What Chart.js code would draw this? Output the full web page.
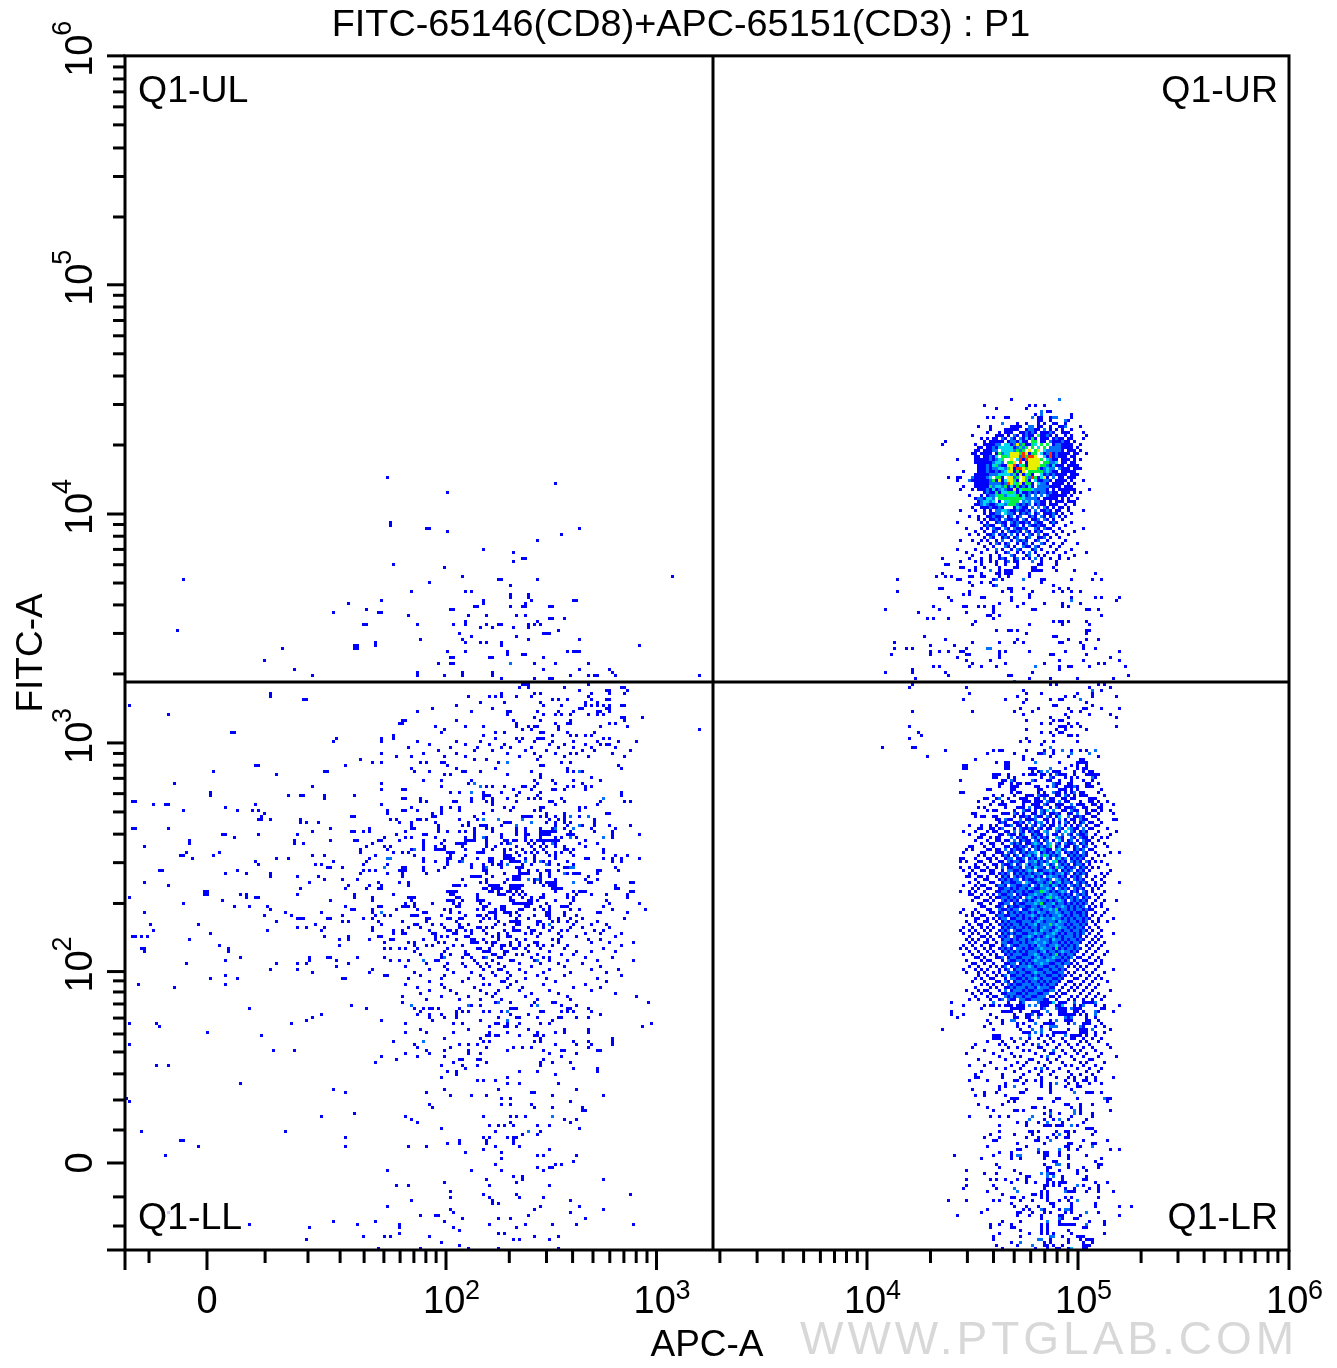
<!DOCTYPE html>
<html>
<head>
<meta charset="utf-8">
<style>body{margin:0;background:#fff}canvas{display:block}</style>
<script src="https://cdn.jsdelivr.net/npm/chart.js@4"></script>
</head>
<body>
<canvas id="dot" width="1337" height="1368"></canvas>
<script>
// axis ticks, in display channels (1 channel = 3 px bin)
const xMajor = [-0.5, 26.83, 106.5, 176.67, 246.83, 317.17, 387.5];
const xLabels = [null, '0', 2, 3, 4, 5, 6];
const xMinor = [7.5,46.2,60.5,71.2,79.2,85.8,91.2,95.8,99.8,103.2,127.6,140,148.7,155.5,161.1,165.8,169.9,173.5,197.8,210.2,218.9,225.7,231.3,236,240,243.6,268,280.3,289,295.9,301.4,306.1,310.2,313.8,338.2,350.5,359.2,366.2,371.5,376.2,380.5,383.8];
const yMajor = [-0.5, 28.5, 92.3, 168.5, 244.8, 321.2, 397.5];
const yLabels = [null, '0', 2, 3, 4, 5, 6];
const yMinor = [7.5,17.2,39.5,49.5,58.2,65.5,71.5,76.8,81.5,85.5,89.2,115,128.6,138.1,145.5,151.6,156.7,161.1,165,191.5,205,214.5,221.8,227.9,233,237.4,241.3,267.8,281.3,290.8,298.2,304.2,309.3,313.8,317.7,343.8,357.3,366.8,374.5,380.5,385.5,389.8,393.8];
const gateX = 195.5, gateY = 188.8;

// rows: [y, x, x, x ...], estimated by eye from the plot; the dense clusters are approximate, not an exact bin copy
const upperLeftBlue = [[257,87],[255,143],[252,107],[242,88],[241,88],[240,100,101,151],[239,107],[238,145],[236,137],[233,119],[232,129],[230,132,133],[229,129],[228,89],[227,106],[224,112,182],[223,124,125,137,19],[222,101],[221,128],[219,95,113,115],[218,128,134],[217,128,134],[216,85,119,135,149,150],[215,74,119,133],[214,116,117,128,132,133,141,142],[213,80,108,109],[212,69,84,85],[211,94,114,120,130,133],[210,141,142,146],[209,113,137],[208,79,80,97,109,113,120,124,125,134,136,138],[207,118,122,129,134],[206,144,17],[205,111,139,140,141],[204,115,130],[203,98,112,134,151],[202,83,113,118,120,125],[201,76,77,83,125,171],[200,76,77,52],[199,107,113,127,147,149,150,151],[198,127,132,133],[197,108,109,121,122,139],[196,46],[195,104,108,109,136,143,154],[193,56,139,151,161],[192,97,112,122,162],[191,62,97,106,112,122,148,154,156,157,163,191],[190,125,136,141,142]];
const upperLeftAzure = [[195,128]];

const lowerLeftOuter = [[185,48],[184,48],[183,59,60,59],[181,1],[178,14],[175,91,92],[172,35,36],[170,89],[169,69,85],[165,85],[164,90],[163,78],[162,82,85],[161,43,44,73],[159,29,66,67],[158,50],[155,16,85],[154,62],[153,85,92],[152,28],[151,28,54,58,59,66,76],[150,66,92],[149,2,3],[148,9,13,14,43,85],[147,33],[146,19,37,42,44,87,92],[145,46,87],[144,45,75,76],[143,45,44,48,58,88,90],[142,58,60,64,91],[140,2,3,14,68,81],[139,62,75,76,79,81],[138,32,33,44,57,90],[137,36,86],[136,21,56,68,76,77,84,85,91],[135,21,56,59,82],[134,6,80,86,88],[133,78,87],[132,20,31,78,89,92],[131,18,19,29,62,66,83],[130,22,50,54,81,87],[129,43,69,80],[128,44,63,65,79,87],[127,67,68,72],[126,11,12,37,79,81,83,91,92],[125,33,40,48,78,87,92],[124,48,57,64],[123,66,72,77],[122,6,61,84,91],[121,14,74,81,85],[120,58,73,80,84,85],[119,26,27],[118,26,27,38,40,57,76,89],[117,1,40,43,44,76,82],[116,32,68,82],[115,19],[114,36,41,47,73,84,85,92],[113,48,75,76,82,90],[112,6,53,65,82],[111,46,55,72,83,86,88],[110,57,58,59,67,68,79,82],[109,50,72,74,84,92],[108,8,24,63,85],[107,57,60,66,82],[106,9,47,65,82,89],[105,28,89],[104,2,3,5,7,66,74,84,85],[103,21,71,74,81,88,89],[102,86],[101,31,71],[100,5,6,34,86,88,91],[99,6,34],[97,38,61,67,68,77,86],[96,33,61,70,88,91],[95,20,50,57,60,74],[94,70],[93,48,57,82],[92,62,81],[91,33,86,87],[90,28,37,72,73],[88,4,33],[87,16],[81,75],[80,41,80],[78,65],[77,62],[76,60],[75,1,10,55],[74,11],[72,27],[71,45],[68,1],[66,49,56],[62,83],[61,10,14],[55,38],[53,69],[52,73],[50,0],[49,1],[45,76],[44,65],[39,5,53],[37,73],[36,18,19],[34,24,73],[31,13],[9,69,83],[8,41,77],[7,61],[4,79],[3,60],[0,84]];

const lowerLeftTop = [[188,132,133,134,154],[187,131,134,146,165,166],[186,151,160,161,167],[185,125,136,138,155,161,166],[184,114,121,123,125,130,135,154],[183,59,142,144,147,155,160,161],[182,118,126,138,153,157],[181,110,139,145,153,155,157,159,161,165,166],[180,102,122,151,152,160,161],[179,97,115,127,128,137,144,149,157,158,161],[178,127,139,143,145,148,154,157,159],[177,136,165,166,172],[176,92,93,110,129,138,148,166],[175,130,143,147,148,161,163],[174,103,113,119,130,134,136,137,144,158,167],[173,106,132,135,144,191],[172,105,123,126,138,139,147,156],[171,89,119,142,148,150,153,155],[170,70,85,123,130,132,137,138,139,159,161],[169,97,110,118,131,136,142,149,157,164,170],[168,101,113,121,126,141,146,153,158,160,161],[167,94,108,117,125,128,135,144,149,155,163],[166,104,116,122,133,140,152,156,168],[165,99,110,127,136,143,148,150,162],[164,95,106,113,131,138,146,154,166]];

const lowerLeftCore = [[163,116,120,137],[162,98,100,105,106,124,145,148],[161,107,138,139,164],[160,95,110,123,147,165],[159,96,101,112,113,118,135,147,149,152],[158,106,108,127,138],[157,138,155],[156,99,105,115,136,142,149,158],[155,114,137,143,152],[154,105,120,122,126,132,133,136,147,149,153,155],[153,93,129,135,142,143,146,153],[152,108,111,119,125,131,138,165],[151,119,120,121,130,137,165],[150,93,98,115,119,122,127,134,136,138,145],[149,98,100,109,110,115,120,122,130,141,142,146,158,166,168],[148,122,143,157],[147,95,105,108,111,126,129,138,139,151,153],[146,93,97,105,111,122,128,136,138,151],[145,102,105,119,140,146,160,161],[144,102,103,116,132,133,134,135,138,140,143,146,151],[143,97,98,100,111,117,124,132,141,144,146,156],[142,95,103,114,126,127,128,140,143,146,148,156],[141,95,104,112,114,118,119,120,125,130,143,147,152,156,161,168],[140,95,96,104,116,120,122,130,133,138,142,146,149,155,163],[139,93,104,107,111,113,116,122,130,133,138,139,140,141,142,143,148,156,162],[138,99,100,116,125,130,133,134,138,139,140,141,147,148,149,162,171],[137,93,95,103,113,116,120,125,133,138,143,145,150,162],[136,99,106,113,114,115,116,120,126,127,129,130,133,135,137,138,139,140,141,142,143,144,153],[135,99,105,110,111,112,113,120,125,127,134,136,139,143,151,157],[134,99,103,106,112,120,123,130,135,138,140,143,146,153],[133,95,99,103,104,105,106,113,119,122,126,128,132,136,139,146,147,149,159],[132,94,107,108,109,117,118,119,126,130,133,135,137,140,143,145,148,159],[131,96,108,113,126,127,128,131,136,141,143,149,163,167],[130,99,107,108,112,117,121,122,126,127,128,129,133,136,143,153,154,159,162,165,171],[129,99,103,107,111,121,122,125,128,129,130,131,136,139,141,147,162,165],[128,107,115,119,122,124,125,132,135,141,144,149],[127,92,93,99,106,115,119,125,130,131,132,146,147,163],[126,93,99,104,119,120,131,134,137,140,141,144,157,164,158],[125,100,120,126,131,132,133,134,138,141,147,149,150,151,157],[124,92,115,116,117,118,122,129,130,131,138,141,154],[123,112,120,127,129,130,131,136,138,143,153,157],[122,94,118,120,126,136,138,140,141,142,143,154,155,168,169],[121,94,109,110,111,113,121,122,123,124,128,129,130,131,132,139,141,142,143,163],[120,119,120,122,123,124,125,128,129,130,131,142,143,144,145,163,164],[119,107,108,109,110,121,122,124,127,128,130,132,143,149,151,152,153,168,169],[118,108,109,117,124,125,126,129,131,133,139,147,150,155,160,167],[117,94,95,96,110,111,117,128,132,135,138,139,147,149,167],[116,95,107,108,109,112,117,118,119,128,129,134,135,137,143,149,160],[115,93,96,102,109,111,118,121,129,130,131,132,133,134,135,140,148,161,171],[114,93,94,96,110,111,119,120,125,126,133,134,138,141,145,146,147,159],[113,97,106,108,117,119,123,125,126,131,132,136,139,141,148,151,162,173],[112,99,100,108,111,121,122,123,126,127,128,130,140,141,146,157,158,167],[111,95,96,97,105,113,117,118,120,123,128,131,136,140,141,146,150],[110,100,101,107,108,111,112,119,121,123,130,134,141,144,148,152,166],[109,100,110,118,124,128,129,130,131,137,138,142,144,147,150,157],[108,96,97,102,105,111,114,123,126,130,131,137,139,141,149,155,160],[107,94,98,106,111,112,117,118,120,122,129,134,139,142,148,152,161],[106,92,101,107,108,110,113,115,119,126,129,130,131,135,136,141,145,147,156,159],[105,92,93,102,103,109,110,115,120,124,127,133,135,138,144,153,158,165],[104,103,105,107,113,114,122,124,127,128,137,145,150,163],[103,99,103,110,115,116,119,124,130,133,142,144,154,158],[102,94,96,104,106,115,116,117,120,122,123,128,131,136,137,144,155,161,169],[101,96,100,102,109,112,122,125,126,128,131,134,137,139,142,147,165],[100,93,97,107,117,118,121,125,129,130,133,138,146,159],[99,96,106,113,119,120,121,126,127,134,141,150,155,163],[98,98,105,108,113,114,122,123,126,130,132,137,145,149],[97,105,112,115,119,120,124,125,135,139,141,153,162],[96,94,103,104,116,122,128,129,136,141,147,157,169],[95,100,107,112,117,120,124,131,138,144,152],[94,93,106,113,118,121,126,135,146,158],[93,101,107,119,124,125,131,141,155,164],[92,96,109,115,122,127,133,139,148,160],[91,98,106,118,123,128,137,146,165],[90,94,105,114,119,127,133,140,157],[89,101,112,125,126,130,143,160],[88,93,105,119,121,128,139,153],[87,97,106,116,127,132,149,158],[86,101,108,118,124,131,141,155],[85,98,110,120,123,135,144,163],[84,92,105,114,122,133,147,170],[83,100,111,118,125,137,148]];

const lowerLeftBottom = [[82,92,123,128,136,142,143,174],[81,115,118,135,145,150],[80,96,99,101,102,104,111,128,129,130,147,148,154],[79,98,110,112,114,119,121,125,138,139,145,147,149,155],[78,97,101,105,110,128,134,158],[77,101,106,110,124,130,131,137,144,145,150,154],[76,85,102,118,142],[75,93,109,112,123,124,127,131,138,141,175],[74,121,126,127,130,172],[73,98,114,134,146,154],[72,93,100,109,121,127,137,143,146,154],[71,120,121,123,124,131,136,137,139],[70,106,118,138,162],[69,89,119,121,136,138,149,154,162],[68,96,111,114,117,143,150,155,162],[67,97,108,120,129,132,135,154],[66,100,106,114,127,139,145,146,157,158],[65,93,101,114,118,141,150],[64,85,97,106,145],[63,90,111,112,117,118,139],[62,109,120,138,142,148],[61,105,112,117,138],[60,113,149,157],[59,107,110,131,137,157],[58,110,143],[57,105,127],[56,117,119,123],[55,127,131,144],[53,106,124,150],[52,100,135,136],[51,108,115,120,142,159],[50,125,128],[49,148],[48,101,125,128,135],[47,102,136,142,152],[46,152,153],[44,93,119,128,130,133],[43,95,146,150],[42,97,128,148],[41,121,124,126,129,137,141],[40,105,151],[39,123,138],[38,132,137],[37,119,121,127,129,130],[36,111,120,129],[35,107,111,120,129],[34,94,100,123,131],[33,119,141],[32,113,125],[31,137,139,150],[30,125],[29,149],[28,123,143,145],[27,137,141,142],[26,87,115,125,139],[24,129,132],[23,120,132,159],[22,106,130],[21,90,94,121,141],[19,108],[18,119,130,168],[17,108,121,131,139],[16,95,122,148],[15,122,124],[14,87,138,151],[13,108,136,159],[12,109,148],[11,98,103,104,134],[10,112,124,128,153],[9,106],[8,91,121,133,142,150,169],[7,91,109,130],[6,111],[5,91,124,126],[4,86,88,101,136,144],[3,129,131,141],[2,105],[1,111],[0,98,114,124,144]];
const lowerLeftAzure = [[162,127],[159,151],[155,116],[154,118],[152,115],[150,159],[144,148,154],[143,119,124,132],[142,135],[141,130,151],[140,143,149],[137,119,148,159],[135,128,142],[133,96],[130,87,88],[129,112,133,138],[128,127,140],[127,86,120,148,149],[125,146],[123,134,137],[122,149],[112,85],[108,141],[97,106,120],[96,99,137],[82,124],[81,95,114,137],[79,127],[76,127],[69,99],[44,142],[39,134]];

const upperRightBlue = [[283,295],[281,286,301,303,306],[280,290,300],[279,307,308],[278,303,315],[277,287,289,293,294,304,305,308,315],[276,304,305,308,314],[275,297,300,304,306,309,310,313],[274,284,288,295,296,297,298,304,305,308,311,312,318],[273,288,293,294,295,296,297,300,303,304,308,310,312,315],[272,287,291,293,294,295,298,299,301,303,305,306,307,309,312,313,314,319],[271,282,290,291,292,294,296,297,299,301,302,305,306,308,310,313,315,320],[270,285,287,289,290,292,293,295,296,298,299,301,303,305,306,307,309,311,312,314,315,319],[269,273,286,288,289,290,291,292,294,296,297,299,300,303,305,306,308,309,310,311,313,314,316],[268,272,283,286,287,288,289,291,293,295,300,301,305,309,311,312,313,314,315,318],[267,284,285,287,288,290,292,296,298,300,302,304,306,308,312,313,314,315,317],[266,283,284,286,287,288,295,299,301,303,306,310,311,312,314,315,316,318],[265,282,283,285,286,287,288,290,298,301,306,309,310,311,312,313,314,316,317,320],[264,283,284,286,287,288,289,293,297,300,302,307,309,311,312,313,315,316],[263,277,283,284,285,286,287,289,295,299,303,309,310,312,313,314,316,318],[262,283,284,285,286,287,288,290,292,298,300,303,308,310,312,313,315,316],[261,284,285,286,287,288,292,293,297,300,303,306,308,310,311,312,314,315,316,317],[260,284,285,286,288,290,291,293,296,299,305,307,308,309,311,312,313,314,316,317,318],[259,279,284,285,286,287,288,289,291,296,298,301,303,306,308,309,310,312,313,314,315,316],[258,283,284,285,286,287,289,291,295,297,298,299,302,305,306,307,308,310,311,312,313,315,316,317],[257,274,277,278,282,283,284,285,286,287,292,294,296,299,304,306,307,309,311,312,314,315,316],[256,277,281,282,283,284,285,286,287,288,290,292,297,300,301,303,304,305,306,308,310,311,312,313,315,319],[255,283,284,285,286,287,288,291,292,293,296,299,301,302,304,305,307,309,310,311,312,314,316],[254,279,283,284,285,286,287,290,291,292,294,296,298,299,300,302,304,306,308,309,310,311,313,314,315],[253,278,282,284,285,286,287,288,290,291,293,294,295,297,300,304,305,307,309,311,312,313,314,315,316,321],[252,286,287,288,289,291,292,293,296,297,299,300,302,303,304,305,306,307,309,310,312,313,314,316,318],[251,281,285,287,288,289,292,293,296,298,300,301,303,305,307,308,309,310,311,312,313,315],[250,283,285,286,288,289,291,296,298,300,301,302,303,304,306,307,308,309,310,312,314,317],[249,284,285,286,288,291,293,294,299,301,303,305,306,308,310,311,312,314,315,316],[248,283,284,287,288,289,291,292,293,297,298,299,300,301,303,305,306,308,309,310,313,316],[247,282,285,286,287,289,290,291,292,296,298,299,300,302,304,306,307,309,311,312,314],[246,278,283,286,288,290,293,295,296,298,299,300,301,303,305,306,308,310,311,314,319],[245,286,288,289,291,293,295,296,298,300,303,304,306,307,308,310,312,315],[244,281,284,287,288,290,291,294,297,298,301,303,305,306,308,311,313],[243,284,286,288,289,291,294,295,297,300,302,303,306,307,309,312],[242,277,285,287,290,292,293,296,298,299,301,304,305,308,310,315],[241,286,288,289,293,295,296,299,302,303,305,306,309,313],[240,280,285,287,290,291,294,297,298,300,304,307,308,311,319],[239,283,286,289,292,295,296,298,301,303,305,309,312,316],[238,281,284,287,288,291,293,297,299,302,306,307,310,314],[237,286,289,292,294,296,300,304,305,308,311],[236,278,282,285,287,290,295,298,300,303,307,313],[235,284,288,291,293,297,299,302,306,309,312,317],[234,286,289,294,296,300,301,304,308,311],[233,277,283,287,292,295,298,302,305,310,315],[232,280,285,290,293,297,299,303,307,309,313,320],[231,282,288,291,296,300,304,306,311,316],[230,272,281,285,288,291,293,296,299,301,305,308,311,314],[229,278,283,285,288,290,293,296,297,305,310],[228,273,274,285,290,293,297,304,305,310],[227,278,279,283,286,291,296,297,302,303,309],[226,281,283,291,293,294,295,302,303,304,305,310,316],[225,272,285,290,291,293,294,295,301,323],[224,270,273,275,281,282,285,286,291,294,301],[223,257,277,278,289,292,305,306,315,322,325],[222,281,285,288,305],[221,282,289,290,309],[220,271,272,294,295,299,311,314],[219,257,281,292,295,302,309,312,315,318],[218,279,281,301],[217,274,285,286,295,301,315,323,325,331],[216,275,295,330],[215,291,299,306,312,318],[214,269,279,280,284,286,289,297,312,314],[213,253,271,289,302,303,320,321,324],[212,264,280,289],[211,287,288,291,325],[210,267,269,274,289],[209,283,309,311,312,314,320],[208,282,301,312,321],[206,290,294,295,297,320,321],[205,300,320],[204,266,309,310],[203,273,297,314,320,324],[202,256,282,291,296,299,311,312,318],[201,268,276,319],[200,256,260,262,280,319,323],[199,268,271,274,278,279,291,293,301,313,331],[198,255,268,280,281,291,308,309,320],[197,277,291,328],[196,280,288,311,319,331],[195,282,293,306,324,326],[194,269,271,281,285,290,311,314,315,321,333],[193,262,311],[192,253,262,273,302],[191,274,294,295,334],[190,263,301,308,317,329]];
const upperRightAzure = [[283,311],[279,305],[278,305],[277,302,309,310],[276,313],[275,292],[274,301,302,313],[273,301,302,306],[272,300,302,308],[271,296,300,304,307],[270,292,295,298,310],[269,295,296,308,312],[268,290,291,296,297,298,299,310,311],[267,289,297,299,308,309,310,311],[266,289,290,296,298,307,308,309,310,311],[265,291,292,307,310],[264,288,296,298,306,310],[263,288,290,291,292,305,307,308],[262,289,291,292,301,308,309],[261,287,291,294,303,305,307],[260,287,289,290,293,295,306,308,309,311],[259,287,290,292,293,295,306,308],[258,288,289,290,295,305,307,309],[257,282,287,290,296,301,306,309],[256,281,288,289,291,296,300,306,307],[255,288,289,290,291,293,295,300,304,305,306],[254,289,292,295,299,304,305,306,307],[253,287,291,293,296,301,303,304,305,306],[252,287,294,295,298,301,303,305,306,308],[251,288,289,292,293,299,301,303,305,307],[250,284,285,289,291,299,300,301,302,303],[249,285,288,289,295,299,301,303,304],[248,285,287,290,293,297,299,301,304],[247,288,291,298,302,304,306],[246,290,291,294,297,300,303,307],[245,290,291,294,295,299,301,304,309],[244,289,292,295,298,302,305,309],[243,290,293,296,299,304,306],[242,291,295,297,300,303,309],[241,287,292,297,301,304],[240,289,293,296,299,303,306],[239,290,294,297,300,304],[238,289,292,295,301,304],[237,288,293,297,301,306],[236,292,297,299,304],[235,290,294,300,305],[234,293,299,303],[233,290,297,303],[232,294,301],[231,295,301],[230,292,297,303],[229,294,302],[226,288],[223,290,299],[221,290],[216,315],[200,287,288],[194,303],[189,296],[186,322],[183,318],[167,308],[166,312,323],[165,306,315,321]];
const upperRightCyan = [[271,304],[270,300],[269,298],[268,293,294,303],[267,291,292,293,294,295,304],[266,292,293,294,295,306],[265,293,294,305],[264,290,294,306],[263,291,297,307],[262,290,291,310],[261,289,298,309],[260,291,292,307],[259,293,307],[258,291,292,293,294,300,305],[257,288,305],[256,293,303],[255,296,304],[254,290,291,295,301],[253,289,292,298,302],[252,292,293,296,298],[251,290,294,295,296,299],[250,287,288,299],[249,286,287,289,293,294,295,300],[248,286,291,292],[247,297],[246,292,293],[245,293]];
const upperRightGreen = [[271,304],[270,302],[269,302,303],[268,299,302,305,307],[267,298,300,302,306],[266,297,299,303],[265,291,298,302,303],[264,292,293,300],[263,292,300,305],[262,294,295,306,307],[261,290,299,305,306],[260,294,300,304],[259,297,301,302,303,304,305],[258,296,301],[257,290,291,297,300,303],[256,289,296,300],[255,297,300,301],[254,288,293,297],[253,299,300,301],[252,290,294,295],[251,291,292,297],[250,291,292,293,294,295,296,297,298],[249,295,296,297],[248,294,295,296]];
const upperRightYellow = [[268,297],[266,301,304],[265,295,296,297,300],[264,295,296,297,303],[263,295,301,302,303,304],[262,296,301,302,303,304],[261,294,295,301,302,303,304],[260,295,299,301,302,303],[259,294,295,299],[258,298],[257,294,295,299,306],[256,291,294,295,299],[255,295,298],[253,296]];
const upperRightRed = [[265,308,299],[264,299,301,302,308],[263,298,300],[262,298],[261,296],[260,297,298],[257,302],[255,294]];

const lowerRightBlue = [[188,262,308,310,324,326],[187,261,280,321,328],[186,299,322,325],[185,281,300,305,317,322],[184,297,313,316,322,330],[183,279,293,300,308,311,312],[182,299,320],[181,309,310,322],[180,298,304,314,319,320,325,331],[179,262,282,296,302,315,318],[178,299,313,321,328],[177,308,314,330],[176,300,309,311,312],[175,305,308,314,317],[174,261,311,312,313,315,318,330],[173,300,310,313,320],[172,264,305,308,311,312],[171,265,309,314,315,317],[170,261,300],[169,298,301,306,309,317],[168,305],[167,252,262,263],[166,273,289,291,292,300,306,309,315,318,320],[165,287,296,304,305,309],[164,267,299,308,314,324],
[163,283,299,302,318,319],[162,290,293,294,311,317,318,319,320],[161,279,280,293,294,315,317,320],[160,279,280,293,294,301,302,303,313,317,319,320],[159,302,304,309,310,311,316,319,321,322],[158,289,290,291,294,299,301,302,303,305,306,308,311,312,313,316,320,321,322,323,324],[157,289,290,294,296,305,309,313,315,317,323],[156,278,292,293,295,296,302,303,307,308,311,315,319,322],[155,291,292,295,297,298,300,301,310,311,314,315,320,321,324],[154,291,295,296,297,303,304,307,310,313,314,315,317,320,321,322],[153,287,288,295,296,304,305,311,312,313,315,317,325],[152,278,279,295,297,298,304,306,309,310,311,313,315,318,319,324],[151,289,292,296,300,301,302,305,306,307,310,311,314,316,318,319,320,326],[150,286,287,290,291,294,298,299,300,303,304,308,309,312,313,315,316,321,322,323],[149,284,289,292,295,296,299,300,301,303,304,305,308,309,313,314,318,321,322,324,327],[148,288,291,292,293,299,302,303,304,307,310,311,312,317,318,319,322,323,325,329],[147,284,286,293,297,298,299,303,304,305,308,311,313,314,315,319,320,324,325],[146,287,289,290,296,300,301,303,306,307,312,313,316,317,320,322,323,325,328],[145,282,283,292,293,294,297,299,302,303,306,308,309,311,314,315,320,321,324,329],[144,283,285,286,289,290,296,298,299,301,304,305,308,310,311,316,317,319,322,323],[143,290,291,294,295,300,301,302,306,307,309,313,315,316,319,320,324,329,330],[142,291,293,296,297,299,303,304,307,309,311,314,316,318,321,322,325],[141,281,285,288,290,293,294,297,298,300,303,306,308,309,313,315,317,320,323,324],[140,284,285,288,289,291,296,299,300,302,305,307,308,312,316,317,321,322,327],[139,279,283,287,289,290,293,294,299,301,303,304,306,311,313,316,318,320,324,330],[138,281,285,286,291,292,295,296,298,302,304,305,309,310,315,318,319,323,328],[137,284,285,288,290,291,297,299,300,303,305,307,310,312,316,319,320,322,325,327],[136,283,287,290,291,293,294,298,300,301,304,306,309,312,314,317,320,321,324],[135,285,288,289,292,296,298,300,301,303,305,308,311,314,315,318,320,322,326],[134,281,282,286,289,293,294,296,297,299,302,304,306,310,313,314,316,319,323,327],[133,280,282,287,288,290,291,295,297,298,301,304,307,308,311,312,316,318,321,322],[132,279,285,286,290,291,292,295,298,300,303,305,307,309,313,315,317,320,323,328,331],[131,284,286,289,292,294,296,299,301,302,306,308,310,314,316,318,320,324,326],[130,278,279,283,287,288,290,293,297,298,301,303,305,308,311,312,315,317,319,322],[129,278,280,284,285,288,291,292,295,298,299,304,306,309,311,313,316,318,321,323,325],[128,283,286,289,290,293,294,297,300,301,304,307,308,312,314,316,319,321,327],[127,278,281,283,284,287,290,294,295,298,302,303,306,309,310,313,315,318,320,322,324],[126,279,282,285,286,288,289,292,296,297,299,301,304,305,310,312,314,317,319,321,328],[125,281,283,288,289,291,293,296,298,300,302,306,307,309,313,316,318,320,325,327],[124,280,281,284,285,287,290,292,294,297,299,303,305,308,311,313,315,317,320,323,326],[123,283,286,287,291,293,295,299,301,302,304,307,310,312,314,317,319,322,325],[122,281,284,288,289,292,295,296,300,302,303,306,308,309,312,315,318,320,323,326,331],[121,279,283,285,286,290,293,297,298,301,304,305,308,311,313,316,318,321,323,325],[120,282,284,287,288,291,292,295,297,300,303,304,307,309,312,314,317,319,322,324],[119,278,281,283,286,290,291,294,296,299,301,302,305,308,310,312,315,317,320,322,326],[118,281,282,285,287,289,292,293,297,299,300,303,306,308,311,313,315,318,320,323,325],[117,283,284,288,290,291,294,296,298,301,303,305,307,310,312,314,316,319,321,324],[116,282,286,287,289,293,295,297,300,302,304,307,309,311,313,316,318,320,323,326,330],[115,284,285,288,291,292,296,298,299,303,305,306,309,310,313,315,317,319,322,325],[114,285,286,290,291,294,296,297,300,301,304,306,309,312,314,316,318,321,323,325],[113,279,283,287,288,292,293,295,299,300,302,305,308,310,311,314,316,319,321,322,327],[112,278,282,284,288,289,291,294,296,298,301,303,304,307,310,312,315,317,318,320,323,326],[111,280,282,285,286,290,293,294,297,299,302,304,306,308,311,313,315,318,320,322,325],[110,283,284,287,289,291,295,296,299,301,303,305,309,312,314,316,319,321,324,329],[109,280,283,286,287,290,292,294,297,298,302,304,306,310,311,314,317,319,322,324,327],[108,281,284,285,288,291,293,295,298,300,303,304,308,310,313,315,318,320,323],[107,279,282,285,287,289,292,294,296,299,301,304,306,309,311,314,316,319,321,324],[106,278,281,283,286,288,291,293,297,298,302,304,305,308,310,312,315,318,320,322,325],[105,279,282,284,287,290,292,294,296,299,300,303,306,309,311,313,316,318,321,324,329],[104,281,285,286,288,291,293,297,298,301,303,305,307,310,312,316,318,320,323,325],[103,280,282,284,287,289,292,295,297,300,302,304,308,309,312,314,317,319,322,324],[102,281,283,286,287,290,294,295,298,300,303,306,308,311,313,315,318,321,323,326],[101,279,282,285,288,289,292,296,297,301,303,304,307,310,312,314,316,320,322,325],[100,278,280,283,286,288,291,293,295,299,301,302,305,309,311,313,316,318,321,324],[99,281,284,287,289,292,294,296,298,300,304,306,307,310,312,315,317,320,323,327],[98,279,282,285,288,290,293,295,299,300,303,305,308,311,313,316,319,322,326],[97,283,284,286,290,291,294,297,298,302,304,306,309,312,314,317,318,321,324],[96,280,285,287,288,292,295,296,299,301,303,307,310,311,313,316,319,320,323,325],[95,282,283,286,289,293,294,298,300,302,305,308,309,312,315,317,321,322,325],[94,281,284,288,290,292,295,297,301,303,306,307,310,314,316,318,320,324],[93,279,283,285,287,291,293,296,298,299,304,305,308,311,313,317,319,323,329],[92,280,284,286,289,291,294,297,300,301,303,306,309,310,314,316,320,322,326],[91,284,287,290,292,295,296,299,302,304,307,308,311,313,315,318,321,324],[90,283,285,288,289,293,297,298,300,303,305,309,310,312,316,317,320,323,325],[89,282,286,290,291,294,296,299,301,304,306,308,311,314,315,319,322,327],[88,285,287,289,292,295,297,298,302,305,307,310,313,316,318,321,324],[87,283,288,290,293,294,296,300,303,304,308,309,312,315,317,320,323],[86,280,284,286,287,291,295,299,301,302,306,307,311,314,316,319,322,328],[85,282,285,288,292,293,297,298,300,304,305,310,312,313,318,321,324],[84,283,287,289,290,294,296,299,302,303,308,309,311,315,317,320,323,326],[83,281,284,288,291,295,296,300,301,306,307,310,314,316,319,322,325],
[82,275,294,298,305,306,307,308,311,312,313,319,320,321,322],[81,279,286,288,289,291,293,294,295,297,298,299,305,306,307,310,311,316,318,323,326,331],[80,285,295,296,297,298,299,305,306,311,312,313,316,317,318,325,326],[79,275,292,293,294,295,298,302,303,304,311,312,313,316,317,319,324,329],[78,275,279,288,296,300,301,304,305,308,311,312,313,314,315,316,318,320,323],[77,277,290,296,297,300,301,313,314,315,320,323],[76,287,292,301,302,308,313,314,315,320,321,324],[75,288,292,297,299,306,307,308,309,314,319,320,321,325],[74,286,297,301,305,319,323,326],[73,272,289,298,308,314,318,319,320,328],[72,299,300,301,309,310,311,312,313,318,319,320,323,326],[71,289,290,291,305,307,309,315,316,317,318,320,323],[70,289,290,291,295,301,304,308,312,315,316,319,322,325],[69,287,292,296,300,306,309,313,318,320,324],[68,283,291,293,299,302,307,311,314,317,321,327],[67,282,294,297,304,305,310,315,319,322,328],[66,286,292,299,301,306,312,316,318,323],[65,280,289,295,303,308,309,313,317,320,325],[64,291,296,298,305,311,315,319,324,330],[63,284,293,301,302,307,310,316,321,322],[62,288,297,300,304,308,312,318,320,326],[61,281,286,295,299,306,313,315,319,323],[60,290,293,298,303,307,311,317,321,325],[59,285,296,301,305,309,314,320,324],[58,283,292,299,304,308,315,318,322],[57,283,284,292,298,305,310,314,316,320,323,329],[56,281,287,296,297,300,303,305,313,316,319,320,323],[55,293,299,305,308,314,317,321,325],[54,291,293,305,308,313,317,318],[53,282,291,300,308,315],[52,286,290,298,299,308,320,321,322,325],[51,283,286,293],[50,295,296,297,304,305,310,311,317,327,328],[49,294,296,309,327],[48,284,292,313,314,318,322],[47,287,302,303,306,315,318],[46,289,296,297,299,308,318,328],[45,306,311,318,322],[44,281,288,291,294,308,315,322],[43,306,309,314,320],[42,297,300,304,312,319],[41,291,300,306,307,308,310,311,312,317],[40,320,321,322],[39,291,301,302,304,310,313,314,316,323],[38,288,296,302,309,314,322],[37,286,291,300,304,307,310,313,314],[36,289,290,303,304,319,327],[35,297,306,314,315,322,323],[34,287,300,313,314,318],[33,297,298,314,317,328,331],[32,291,295,304,306,307,311],[31,276,289,295,306,307,311,314,320],[30,285,295,298,306,314,325],[29,309,310,323],[28,290,306,314,324,325],[27,291,307,308,314,319,324],[26,280,296,307,311,317,320],[25,286,290,298,308,309,317],[24,300,301,312,320],[23,280,288,290,293,297,300,307,308,312,319,320],[22,295,300,303,307,309,311,312,313,323,327],[21,280,289,306,307,309,311,319,324],[20,279,290,306,313,316,321,324],[19,287,305,307,314,315,316,320,324,329],[18,292,302,303,305,307],[17,295,296,299,305,307,313,315,324],[16,274,280,289,291,298,302,307,311,314],[15,295,308,309,315,323],[14,296,300,304,309,315,323,331,335],[13,287,299,301,306,311,315],[12,285,297,298,302,306,308,313,315,324],[11,277,297,301,305,311,312,318,331],[10,305,312,316,317],[9,292,298,307,311,321,326],[8,288,291,295,305,307,311,312,313,314,315,316,326],[7,288,295,296,305,307,319,320],[6,298,305,307,314],[5,291,301,305,307,309,315,326],[4,289,298,312,317,318,319],[3,289,308,314,318,320,321,322],[2,295,306,308,314,319,322],[1,290,297,306,307,309,312,319,320,321],[0,292,303,307,310,311,314,319,320]];
const lowerRightAzure = [[162,303],[160,308],[159,305,307],[158,310],[157,308,322],[156,295,302],[155,309],[154,309,316],[152,309,316],[151,304,313],[150,291,306],[149,307,311],[148,306,315],[147,301,310,316],[146,299,305,309,315],[145,296,305,310,317],[144,300,303,307,314,318],[143,293,298,303,311,318],[142,292,298,301,305,313,319],[141,295,302,305,311,318],[140,292,298,301,304,311,315,319],[139,296,298,302,307,310,315,319],[138,294,299,303,307,312,314,317,320],[137,295,298,302,306,311,315,318],[136,296,299,303,307,311,315,319],[135,295,297,302,304,307,310,313,316,319],[134,298,300,303,305,307,311,317,320],[133,293,296,299,303,306,310,313,317,319],[132,294,296,299,301,302,306,308,311,314,316,319],[131,293,297,300,303,305,309,311,315,317,319],[130,294,295,299,302,304,307,310,313,316,318],[129,294,296,297,301,302,305,307,310,312,315,317,320],[128,292,295,298,302,303,305,309,311,313,317,318],[127,292,296,297,300,301,304,305,308,311,314,316,319],[126,294,295,298,300,302,306,307,309,313,315,318],[125,292,294,297,299,301,303,304,308,310,311,314,317,319],[124,293,296,298,300,301,304,307,309,310,312,316,318],[123,292,294,296,297,300,303,305,306,308,311,313,316,318],[122,293,294,297,298,301,304,305,307,310,313,314,317,319],[121,291,292,295,296,299,300,303,306,307,310,312,315,317,320],[120,293,294,296,298,299,302,305,306,308,311,313,316,318],[119,292,293,295,297,298,300,303,304,307,309,311,313,316,319],[118,291,294,295,298,301,302,304,305,307,309,310,312,314,317,319],[117,292,293,295,297,300,302,304,306,308,309,311,313,315,317,320],[116,292,294,296,299,301,303,305,306,308,310,312,315,317,319],[115,293,294,297,300,301,302,304,307,308,311,312,314,316,318,320],[114,292,295,298,299,302,303,305,307,308,310,311,313,315,317,319],[113,291,294,296,297,301,303,304,306,307,309,312,313,315,317,318,320],[112,292,295,297,299,300,302,305,306,308,309,311,313,314,316,319],[111,291,292,295,296,298,300,301,303,305,307,309,310,312,314,316,317,319],[110,292,293,297,298,300,302,304,306,307,308,310,311,313,315,317,318,320],[109,293,295,296,299,300,301,303,305,307,308,309,312,313,315,316,318,320],[108,292,294,296,297,299,301,302,305,306,307,309,311,312,314,316,317,319],[107,293,295,297,298,300,302,303,305,307,308,310,312,313,315,317,318],[106,292,294,296,299,300,301,303,306,307,309,311,313,314,316,317,319],[105,293,295,297,298,301,302,304,305,307,308,310,312,314,315,317,319],[104,292,294,296,299,300,302,304,306,308,309,311,313,314,315,317],[103,293,294,296,298,299,301,303,305,306,307,310,311,313,315,316,318],[102,292,293,296,297,299,301,302,304,305,307,309,310,312,314,316,317],[101,293,295,298,299,300,302,305,306,308,309,311,313,315,317],[100,292,294,297,298,300,303,304,306,307,308,310,312,314,315,317],[99,293,295,297,299,301,302,303,305,308,309,311,313,314,316],[98,294,296,297,298,301,302,304,306,307,309,310,312,314,315],[97,292,295,296,299,300,301,303,305,307,308,310,311,313,315],[96,294,297,298,300,302,304,305,306,308,309,312,314],[95,295,296,299,301,303,304,306,307,310,311,313,314],[94,293,296,298,299,300,302,304,305,308,309,311,312],[93,294,297,298,300,301,302,303,306,307,309,310,312],[92,295,296,298,299,302,304,305,307,308,311,312],[91,293,297,298,300,301,303,305,306,309,310,312],[90,295,296,299,301,302,304,306,307,308,311],[89,293,297,298,300,302,303,305,307,309,310],[88,294,296,299,300,301,303,304,306,308,309],[87,295,297,298,299,301,302,305,306,307],[86,293,296,297,298,300,303,304,305,308,309],[85,294,295,296,299,301,302,303,306,307],[84,293,295,297,298,300,301,304,305,306],[83,292,294,298,299,302,303,304,305],
[82,289,299,304,316,323],[81,301,303,319],[80,306,310,315],[79,307,323],[78,302,323],[77,304,313,315],[76,295,296,310],[75,303,316],[74,308,309,310,318],[73,302,305,322],[72,303,305],[71,301,313],[70,298],[68,304],[66,309],[64,307],[60,305],[55,310],[54,296],[52,316],[50,326],[46,316],[45,308,316],[44,302],[43,301,311],[42,307],[41,315],[38,311],[36,308],[34,322],[33,304,311],[31,297,298],[28,310,311],[25,305,307],[24,307,309],[21,317],[20,296],[19,297,313],[16,317],[13,305,313,314],[12,320],[10,311],[9,307],[8,320],[4,308,309],[3,304,305],[2,298],[1,302]];
const lowerRightCyan = [[146,307],[144,311],[142,304],[140,310,314],[139,306,313],[137,304,310],[136,311],[135,303,308],[133,305,311],[132,303,310],[131,301,307],[130,304,311],[129,303,309],[128,300,307],[127,303,312],[126,301,308],[125,305,312],[124,302,308],[123,304,310],[122,300,311],[121,305,309],[120,301,307],[119,306,312],[118,303,308],[117,301,307,310],[116,304,311],[115,303,309],[114,306,312],[113,302,308],[112,304,310],[111,302,311],[110,305,309],[109,304,311],[108,303,310],[107,306,311],[106,305,310],[105,303,309],[104,301,307],[103,304,309],[102,303,306],[101,304,310],[100,305],[99,306,312],[98,303],[97,304,309],[96,303,307],[95,305],[94,301],[92,303],[90,303],[87,304],[81,312],[82,309],[0,315]];
const lowerRightGreen = [[134,308],[131,306],[129,310],[127,310],[122,308],[119,305],[117,308],[115,305],[113,310],[108,308],[100,310],[98,310]];
const faintCells = [[12,14,355]];

const toPoints = rows => rows.flatMap(([y, ...xs]) => xs.map(x => ({x, y})));
const cells = (rows, color) => ({
    data: toPoints(rows), pointStyle: 'rect', pointRadius: 2.13, pointBorderWidth: 0,
    pointBackgroundColor: color, showLine: false, order: 2
});
const gate = data => ({data, showLine: true, borderColor: '#000', borderWidth: 3, pointRadius: 0, order: 1});

const axisMarks = {
    id: 'axisMarks',
    afterDraw(chart) {
        const {ctx, chartArea: a, scales: {x, y}} = chart;
        ctx.save();
        ctx.fillStyle = ctx.strokeStyle = '#000';
        ctx.lineWidth = 3;
        ctx.strokeRect(a.left, a.top, a.width, a.height);
        const tick = (x0, y0, x1, y1) => { ctx.beginPath(); ctx.moveTo(x0, y0); ctx.lineTo(x1, y1); ctx.stroke(); };
        xMinor.forEach(v => { const p = x.getPixelForValue(v); tick(p, a.bottom, p, a.bottom + 13); });
        xMajor.forEach(v => { const p = x.getPixelForValue(v); tick(p, a.bottom, p, a.bottom + 20); });
        yMinor.forEach(v => { const p = y.getPixelForValue(v); tick(a.left, p, a.left - 12, p); });
        yMajor.forEach(v => { const p = y.getPixelForValue(v); tick(a.left, p, a.left - 18, p); });
        // x labels
        ctx.textBaseline = 'alphabetic';
        xMajor.forEach((v, i) => {
            const p = x.getPixelForValue(v), lab = xLabels[i];
            if (lab === null) return;
            ctx.font = '38px "Liberation Sans"';
            if (lab === '0') { ctx.textAlign = 'center'; ctx.fillText('0', p, 1313); return; }
            ctx.textAlign = 'left';
            ctx.fillText('10', p - 23, 1313);
            ctx.font = '27px "Liberation Sans"';
            ctx.fillText(String(lab), p + 19, 1299);
        });
        // y labels are turned a quarter
        yMajor.forEach((v, i) => {
            const p = y.getPixelForValue(v), lab = yLabels[i];
            if (lab === null) return;
            ctx.save();
            ctx.translate(92, p);
            ctx.rotate(-Math.PI / 2);
            ctx.font = '38px "Liberation Sans"';
            if (lab === '0') { ctx.textAlign = 'center'; ctx.fillText('0', 0, 0); ctx.restore(); return; }
            ctx.textAlign = 'left';
            ctx.fillText('10', -21, 0);
            ctx.font = '27px "Liberation Sans"';
            ctx.fillText(String(lab), 20, -21);
            ctx.restore();
        });
        // quadrant names
        ctx.font = '37.5px "Liberation Sans"';
        ctx.textBaseline = 'middle';
        ctx.textAlign = 'left';
        ctx.fillText('Q1-UL', 138, 92);
        ctx.fillText('Q1-LL', 138, 1219);
        ctx.textAlign = 'right';
        ctx.fillText('Q1-UR', 1278, 92);
        ctx.fillText('Q1-LR', 1278, 1219);
        // watermark
        ctx.textAlign = 'left';
        ctx.textBaseline = 'alphabetic';
        ctx.font = '46px "Liberation Sans"';
        ctx.letterSpacing = '4px';
        ctx.fillStyle = '#d8d8d8';
        ctx.fillText('WWW.PTGLAB.COM', 800, 1354);
        ctx.restore();
    }
};

new Chart(document.getElementById('dot'), {
    type: 'scatter',
    data: {datasets: [
        // first dataset is painted last, hottest bins go on top
        cells(upperRightRed, '#ff3000'),
        cells(upperRightYellow, '#e8f000'),
        cells(upperRightGreen, '#00f040'),
        cells(upperRightCyan, '#00d8f0'),
        cells(lowerRightGreen, '#00f040'),
        cells(lowerRightCyan, '#00c8f8'),
        cells(upperRightAzure, '#0070ff'),
        cells(lowerRightAzure, '#0070ff'),
        cells(lowerLeftAzure, '#0070ff'),
        cells(upperLeftAzure, '#0070ff'),
        cells(upperRightBlue, '#0000ff'),
        cells(lowerRightBlue, '#0000ff'),
        cells(lowerLeftOuter, '#0000ff'),
        cells(lowerLeftTop, '#0000ff'),
        cells(lowerLeftCore, '#0000ff'),
        cells(lowerLeftBottom, '#0000ff'),
        cells(upperLeftBlue, '#0000ff'),
        cells(faintCells, '#c8c8ff'),
        gate([{x: gateX, y: -0.5}, {x: gateX, y: 397.5}]),
        gate([{x: -0.5, y: gateY}, {x: 387.5, y: gateY}])
    ]},
    options: {
        responsive: false,
        animation: false,
        devicePixelRatio: 1,
        layout: {padding: {left: 73, right: 48, top: 0, bottom: 0}},
        plugins: {
            legend: {display: false},
            tooltip: {enabled: false},
            title: {
                display: true,
                text: 'FITC-65146(CD8)+APC-65151(CD3) : P1',
                color: '#000',
                font: {family: '"Liberation Sans"', size: 37.8, weight: 'normal', lineHeight: 1.2},
                padding: {top: 2.5, bottom: 8}
            }
        },
        scales: {
            x: {
                type: 'linear', min: -0.5, max: 387.5,
                grid: {display: false}, border: {display: false}, ticks: {display: false},
                title: {display: true, text: 'APC-A', color: '#000', padding: 0,
                    font: {family: '"Liberation Sans"', size: 37, lineHeight: 1.2}},
                afterFit: s => { s.height = 118; }
            },
            y: {
                type: 'linear', min: -0.5, max: 397.5,
                grid: {display: false}, border: {display: false}, ticks: {display: false},
                title: {display: true, text: 'FITC-A', color: '#000', padding: {top: -63, bottom: 0},
                    font: {family: '"Liberation Sans"', size: 37, lineHeight: 1.2}},
                afterFit: s => { s.width = 52; }
            }
        }
    },
    plugins: [axisMarks]
});
</script>
</body>
</html>
